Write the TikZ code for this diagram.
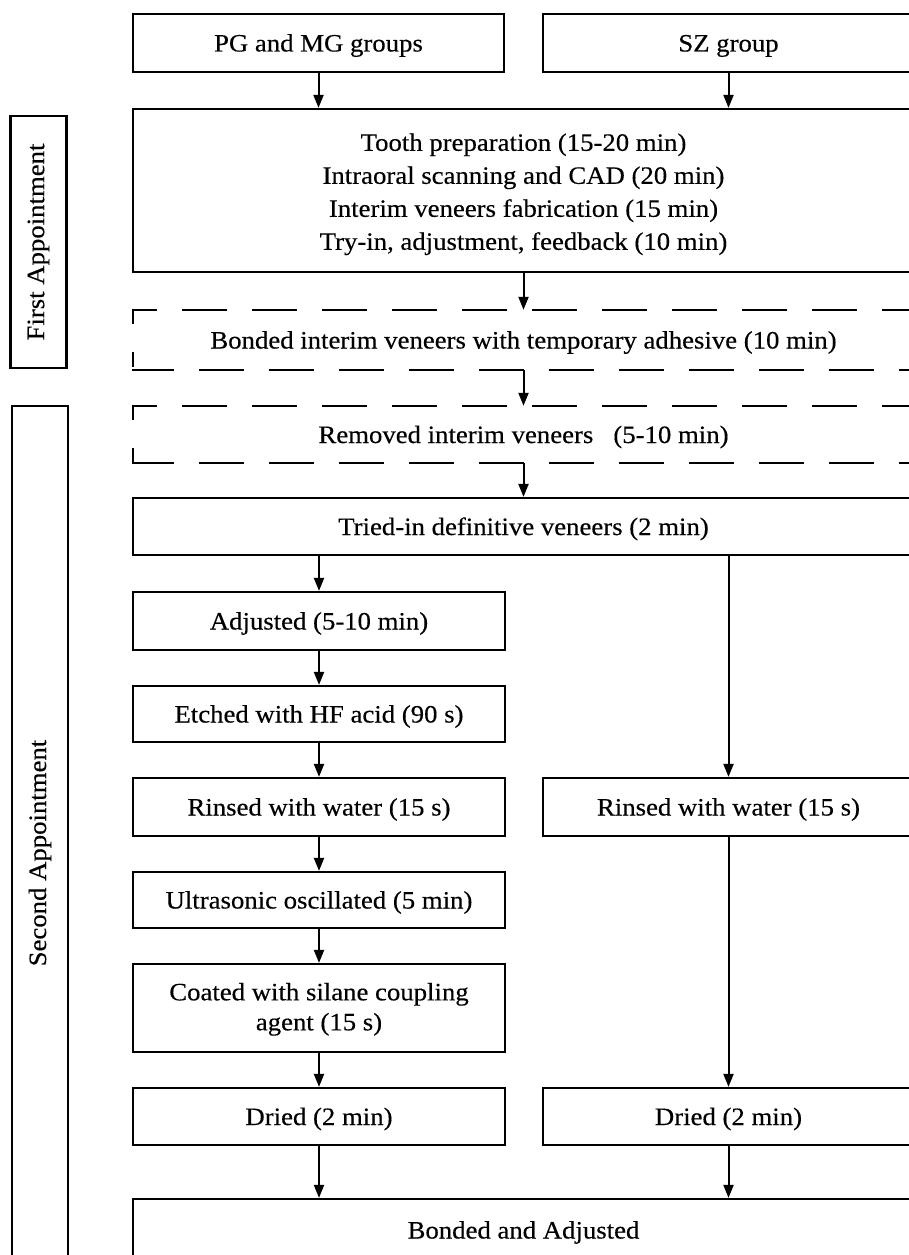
\documentclass[tikz,border=0pt]{standalone}
\usepackage{fontspec}
\setmainfont[FakeStretch=1.07,FakeBold=0.35]{Liberation Serif}
\usetikzlibrary{arrows.meta,positioning,calc}

\begin{document}
\begin{tikzpicture}[x=1pt,y=-1pt,
    every node/.style={font=\fontsize{25}{30}\selectfont, inner sep=0pt},
    box/.style={draw, line width=2.2pt, align=center},
    colbox/.style={box, minimum width=372, minimum height=57, text height=22pt, text depth=5pt},
    widebox/.style={box, minimum width=781, minimum height=57, text height=22pt, text depth=5pt},
    dashbox/.style={minimum width=781, minimum height=57, text height=22pt, text depth=5pt},
    dashline/.style={line width=2.2pt, line cap=rect, dash pattern=on 43pt off 27pt},
    phasebox/.style={box, rotate=90, minimum height=56},
    flow/.style={line width=2pt, -{Triangle[length=13pt,width=10pt]}}]
    \useasboundingbox (0,0) rectangle (909,1255);
    \clip (0,0) rectangle (909,1255);

    % groups
    \node[colbox, minimum width=371, minimum height=58] (pg) at (318.5,43) {PG and MG groups};
    \node[colbox, minimum width=371, minimum height=58] (sz) at (728.5,43) {SZ group};

    % first appointment
    \node[box, minimum width=781, minimum height=163, font=\fontsize{25}{33}\selectfont] (prep) at (523.5,190.5)
        {\rule{0pt}{25pt}Tooth preparation (15-20 min)\\Intraoral scanning and CAD (20 min)\\
         Interim veneers fabrication (15 min)\\Try-in, adjustment, feedback (10 min)};
    \node[dashbox, minimum height=60] (bint) at (523.5,340)
        {Bonded interim veneers with temporary adhesive (10 min)};

    % second appointment
    \node[dashbox] (rem) at (523.5,434.5) {Removed interim veneers\ \ \ (5-10 min)};
    \foreach \b in {bint, rem} {
        \draw[dashline, dash phase=20pt] (\b.north west) -- (\b.north east);
        \draw[dashline, dash pattern=on 13pt off 30pt] (\b.north west) -- (\b.south west);
        \draw[dashline, dash phase=3pt] (\b.south west) -- (\b.south east);
    }
    \node[widebox] (tried) at (523.5,526.5) {Tried-in definitive veneers (2 min)};

    \node[colbox, minimum height=58] (adj) at (319,621) {Adjusted (5-10 min)};
    \node[colbox, minimum height=56] (etch) at (319,714) {Etched with HF acid (90 s)};
    \node[colbox, minimum height=58] (rinL) at (319,807) {Rinsed with water (15 s)};
    \node[colbox, minimum height=56] (ultra) at (319,900) {Ultrasonic oscillated (5 min)};
    \node[box, minimum width=372, minimum height=88] (coat) at (319,1008)
        {\rule{0pt}{20pt}Coated with silane coupling\\agent (15 s)};
    \node[colbox] (dryL) at (319,1116.5) {Dried (2 min)};

    \node[colbox, minimum width=371, minimum height=58] (rinR) at (728.5,807) {Rinsed with water (15 s)};
    \node[colbox, minimum width=371] (dryR) at (728.5,1116.5) {Dried (2 min)};

    \node[widebox, minimum height=62] (bond) at (523.5,1230) {Bonded and Adjusted};

    % side labels
    \node[phasebox, minimum width=252] (first) at (38.5,242) {First Appointment};
    \node[phasebox, minimum width=894] (second) at (40,853) {Second Appointment};

    % arrows
    \draw[flow] (pg.south) -- (pg.south |- prep.north);
    \draw[flow] (sz.south) -- (sz.south |- prep.north);
    \draw[flow] (prep.south) -- (bint.north);
    \draw[flow] (bint.south) -- (rem.north);
    \draw[flow] (rem.south) -- (tried.north);
    \draw[flow] (tried.south -| adj.north) -- (adj.north);
    \draw[flow] (tried.south -| rinR.north) -- (rinR.north);
    \draw[flow] (adj.south) -- (etch.north);
    \draw[flow] (etch.south) -- (rinL.north);
    \draw[flow] (rinL.south) -- (ultra.north);
    \draw[flow] (ultra.south) -- (coat.north);
    \draw[flow] (coat.south) -- (dryL.north);
    \draw[flow] (rinR.south) -- (dryR.north);
    \draw[flow] (dryL.south) -- (dryL.south |- bond.north);
    \draw[flow] (dryR.south) -- (dryR.south |- bond.north);
\end{tikzpicture}
\end{document}
